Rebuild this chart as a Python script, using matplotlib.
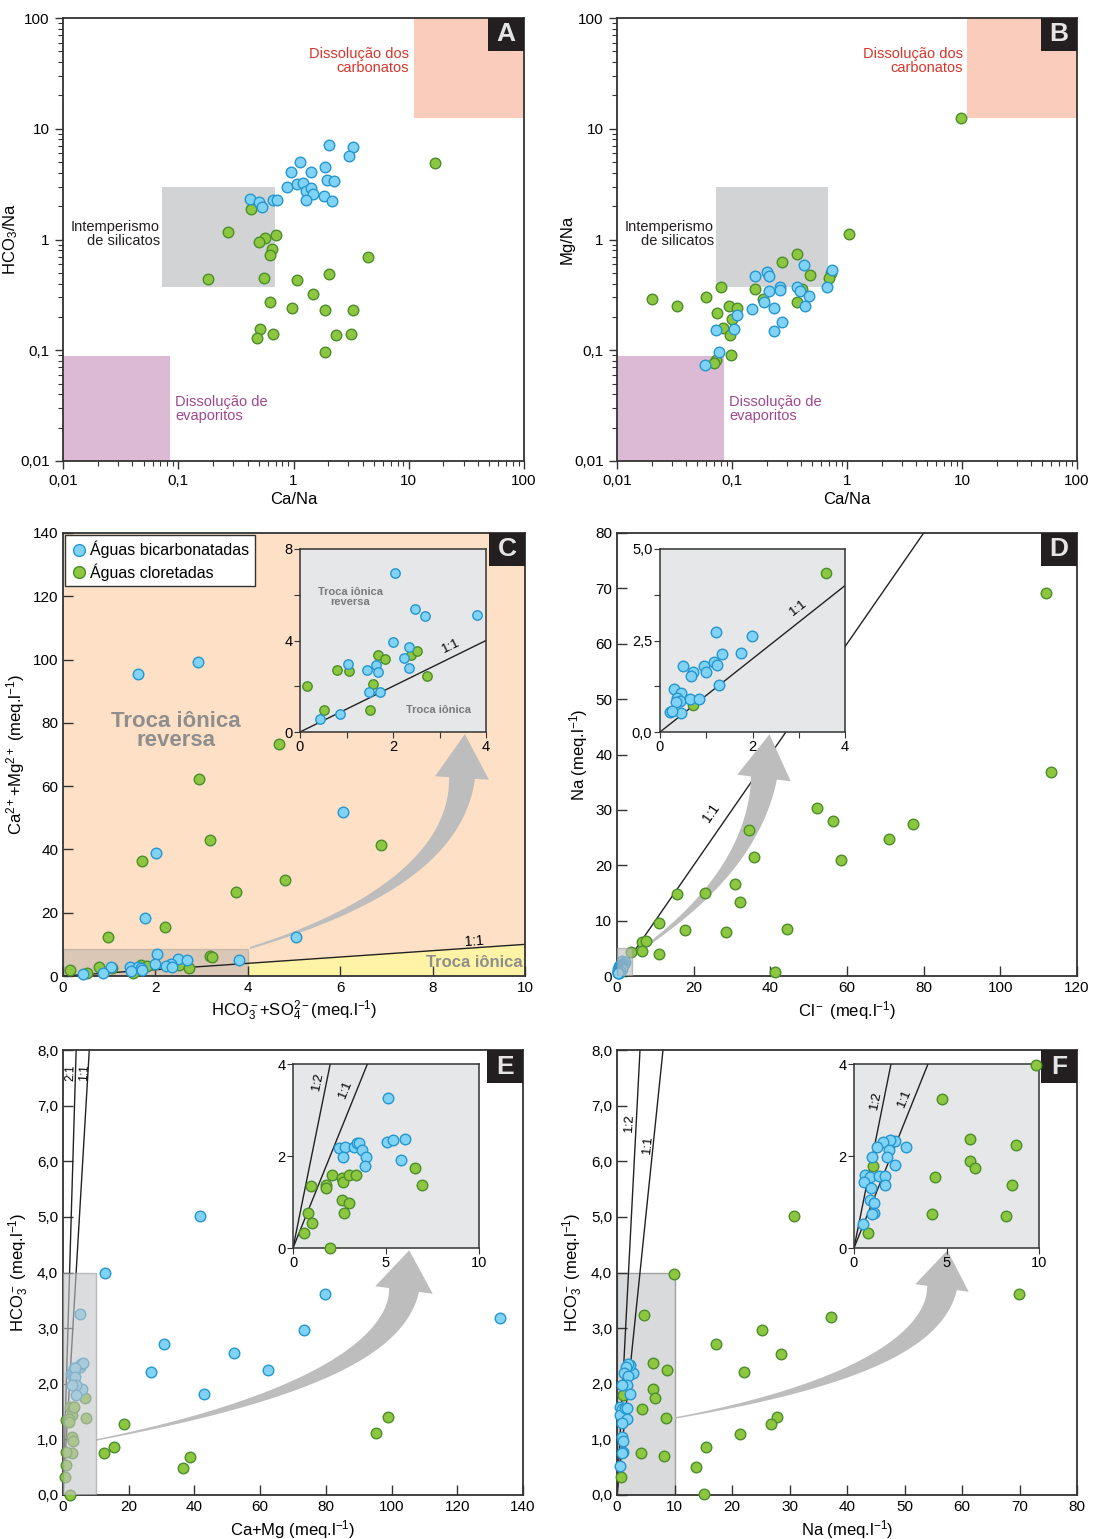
import numpy as np
import matplotlib.pyplot as plt
from matplotlib.patches import Rectangle, Polygon
from matplotlib.ticker import FixedLocator, FuncFormatter, LogLocator, NullFormatter
from matplotlib.lines import Line2D

plt.rcParams['font.family'] = ['Liberation Sans', 'DejaVu Sans']
plt.rcParams['mathtext.fontset'] = 'custom'
plt.rcParams['mathtext.rm'] = 'Liberation Sans'
plt.rcParams['mathtext.it'] = 'Liberation Sans:italic'

W, H = 1094, 1539

# ---- A: Ca/Na x HCO3/Na
a_bic_ca = [2.05, 3.27, 3.05, 1.15, 0.95, 1.42, 1.87, 1.94, 2.26, 0.88, 1.07, 1.20,
            1.28, 1.41, 1.47, 1.28, 1.85, 2.14, 0.42, 0.50, 0.53, 0.67, 0.72]
a_bic_hco3 = [7.2, 6.9, 5.7, 5.0, 4.05, 4.1, 4.5, 3.47, 3.4, 3.0, 3.2, 3.26,
              2.76, 2.92, 2.58, 2.28, 2.49, 2.24, 2.33, 2.17, 1.98, 2.28, 2.26]
a_clo_ca = [16.9, 0.43, 0.27, 0.57, 0.50, 0.71, 0.65, 0.63, 4.4, 0.18, 0.55, 1.07,
            2.05, 1.48, 0.62, 0.98, 1.88, 3.28, 0.51, 0.48, 0.67, 2.34, 3.18, 1.88]
a_clo_hco3 = [4.87, 1.87, 1.16, 1.04, 0.95, 1.10, 0.82, 0.72, 0.70, 0.44, 0.45, 0.43,
              0.49, 0.32, 0.27, 0.24, 0.23, 0.23, 0.155, 0.13, 0.14, 0.137, 0.14, 0.097]

# ---- B: Ca/Na x Mg/Na
b_bic_ca = [0.74, 0.67, 0.42, 0.20, 0.21, 0.16, 0.26, 0.26, 0.21, 0.37, 0.39, 0.47,
            0.43, 0.19, 0.23, 0.15, 0.11, 0.105, 0.073, 0.27, 0.23, 0.077, 0.058]
b_bic_mg = [0.53, 0.37, 0.59, 0.51, 0.47, 0.47, 0.37, 0.35, 0.345, 0.37, 0.34, 0.31,
            0.25, 0.27, 0.24, 0.235, 0.21, 0.156, 0.152, 0.18, 0.15, 0.096, 0.073]
b_clo_ca = [9.9, 1.05, 0.37, 0.27, 0.48, 0.73, 0.70, 0.41, 0.16, 0.081, 0.185, 0.37,
            0.020, 0.033, 0.059, 0.094, 0.11, 0.074, 0.10, 0.084, 0.097, 0.099, 0.072, 0.070]
b_clo_mg = [12.5, 1.12, 0.74, 0.63, 0.48, 0.50, 0.45, 0.36, 0.36, 0.37, 0.29, 0.275,
            0.29, 0.25, 0.30, 0.25, 0.24, 0.216, 0.19, 0.158, 0.136, 0.09, 0.082, 0.076]

# campos de Gaillardet (Ca/Na min, max, razao min, max)
field_carb = [11, 100, 12.5, 100]
field_sil = [0.073, 0.69, 0.375, 3.0]
field_evap = [0.01, 0.085, 0.01, 0.088]

# ---- C: HCO3+SO4 x Ca+Mg (pontos do detalhe + pontos fora do detalhe)
c_bic_x = [2.04, 2.48, 2.69, 3.81, 1.99, 2.34, 2.23, 2.35, 1.03, 1.45, 1.63, 1.68, 1.48, 1.72, 0.87, 0.44]
c_bic_y = [6.94, 5.37, 5.06, 5.10, 3.92, 3.70, 3.22, 2.81, 2.98, 2.69, 2.95, 2.63, 1.73, 1.74, 0.80, 0.56]
c_clo_x = [0.16, 0.52, 0.79, 1.06, 1.68, 1.82, 2.39, 2.51, 1.58, 1.51, 2.73]
c_clo_y = [1.99, 0.98, 2.72, 2.68, 3.35, 3.20, 3.38, 3.52, 2.08, 0.95, 2.44]
c_bic_x2 = [1.63, 2.93, 6.05, 2.01, 1.78, 5.05]
c_bic_y2 = [95.4, 99.1, 51.7, 38.8, 18.4, 12.4]
c_clo_x2 = [4.68, 2.94, 3.19, 1.72, 4.81, 3.75, 2.21, 0.97, 6.88, 3.18, 3.22]
c_clo_y2 = [73.2, 62.3, 42.9, 36.3, 30.4, 26.4, 15.4, 12.4, 41.4, 6.3, 6.0]

# ---- D: Cl x Na
d_bic_cl = [1.21, 1.98, 1.76, 1.35, 1.17, 1.24, 0.96, 0.99, 0.49, 0.71, 0.67, 1.27,
            0.30, 0.45, 0.37, 0.43, 0.65, 0.85, 0.34, 0.45, 0.22, 0.25]
d_bic_na = [2.74, 2.61, 2.17, 2.14, 1.90, 1.84, 1.79, 1.63, 1.79, 1.63, 1.52, 1.29,
            1.18, 1.06, 0.92, 0.86, 0.91, 0.91, 0.81, 0.52, 0.56, 0.58]
d_clo_cl = [3.58, 0.72]
d_clo_na = [4.35, 0.73]
d_clo_cl2 = [52.1, 56.4, 58.5, 34.5, 35.7, 30.9, 32.1, 23.0, 15.6, 11.0, 17.7, 28.4,
             44.4, 6.5, 7.6, 6.5, 11.0, 41.2, 111.9, 113.3, 77.2, 71.0]
d_clo_na2 = [30.3, 28.0, 20.9, 26.3, 21.5, 16.7, 13.4, 15.0, 14.8, 9.5, 8.3, 8.0,
             8.5, 6.1, 6.4, 4.5, 4.0, 0.7, 69.2, 36.8, 27.4, 24.8]

# ---- E: Ca+Mg x HCO3
e_bic_camg = [5.12, 5.03, 5.39, 6.01, 5.83, 2.46, 2.78, 3.27, 3.45, 3.55, 3.73, 3.95, 3.86, 2.69]
e_bic_hco3 = [3.26, 2.31, 2.35, 2.38, 1.91, 2.18, 2.20, 2.19, 2.28, 2.29, 2.13, 1.97, 1.79, 1.97]
e_clo_camg = [6.57, 6.91, 2.08, 2.66, 2.69, 3.02, 3.41, 0.97, 1.80, 1.80, 2.66, 3.02,
              2.75, 0.83, 1.01, 0.59, 2.01]
e_clo_hco3 = [1.75, 1.38, 1.59, 1.53, 1.43, 1.58, 1.58, 1.35, 1.37, 1.31, 1.04, 0.97,
              0.76, 0.77, 0.54, 0.33, 0.00]
e_bic_camg2 = [41.6, 12.8, 30.7, 26.7, 51.9, 62.3, 42.9, 79.7, 73.3, 133.1]
e_bic_hco32 = [5.02, 3.99, 2.71, 2.21, 2.55, 2.25, 1.81, 3.62, 2.96, 3.19]
e_clo_camg2 = [99.0, 95.4, 18.7, 12.6, 15.6, 38.8, 36.5]
e_clo_hco32 = [1.40, 1.12, 1.28, 0.76, 0.87, 0.69, 0.49]

# ---- F: Na x HCO3
f_bic_na = [2.79, 2.21, 1.94, 1.58, 1.22, 1.87, 1.80, 0.95, 2.21, 0.59, 0.86, 0.54,
            1.37, 1.69, 1.67, 0.92, 0.86, 1.10, 1.08, 0.95, 0.50]
f_bic_hco3 = [2.19, 2.33, 2.35, 2.31, 2.20, 2.14, 1.97, 1.97, 1.81, 1.58, 1.55, 1.44,
              1.56, 1.56, 1.36, 1.30, 1.04, 0.97, 0.77, 0.75, 0.53]
f_clo_na = [9.86, 4.73, 6.26, 8.74, 6.29, 6.55, 4.37, 8.54, 4.21, 8.24, 1.04, 0.77]
f_clo_hco3 = [3.97, 3.23, 2.37, 2.25, 1.90, 1.74, 1.54, 1.38, 0.75, 0.70, 1.79, 0.32]
f_clo_na2 = [30.7, 37.3, 25.3, 17.2, 28.6, 22.0, 27.9, 26.8, 21.4, 15.4, 13.7, 15.2, 69.9]
f_clo_hco32 = [5.02, 3.20, 2.97, 2.71, 2.54, 2.21, 1.40, 1.28, 1.10, 0.87, 0.50, 0.02, 3.61]

BIC = dict(facecolor='#80d3f4', edgecolor='#2596d1')
CLO = dict(facecolor='#8dc63f', edgecolor='#4b8e2c')
SPINE = '#333333'
ARROW = '#bdbdbd'

fig = plt.figure(figsize=(W / 100, H / 100), dpi=100)


def px_axes(x0, y0, x1, y1, z=0):
    """axes placed by pixel box (y from top)"""
    ax = fig.add_axes([x0 / W, 1 - y1 / H, (x1 - x0) / W, (y1 - y0) / H])
    ax.set_zorder(z)
    for s in ax.spines.values():
        s.set_color(SPINE)
        s.set_linewidth(1.3)
    return ax


def dots(ax, x, y, style, s=58, z=3, lw=1.0):
    ax.scatter(x, y, s=s, linewidths=lw, zorder=z, clip_on=False, **style)


def comma(fmt):
    return FuncFormatter(lambda v, p: (fmt % v).replace('.', ','))


def tag(ax, letter):
    """black corner box with panel letter"""
    bb = ax.get_position()
    w = 36 / (bb.width * W)
    h = 33 / (bb.height * H)
    ax.add_patch(Rectangle((1 - w, 1 - h), w, h, transform=ax.transAxes, facecolor='#231f20',
                           edgecolor='none', zorder=8, clip_on=False))
    ax.text(1 - w / 2, 1 - h / 2, letter, transform=ax.transAxes, ha='center', va='center',
            color='#e4e4e4', fontsize=19, fontweight='bold', zorder=9)


def ftext(x, y, s, **kw):
    fig.text(x / W, 1 - y / H, s, **kw)


def curved_arrow(ax, p0, p1, p2, w0, w1, head_w, head_l):
    """tapered curved arrow, pixel coordinates (quadratic bezier)"""
    t = np.linspace(0, 1, 80)[:, None]
    P0, P1, P2 = np.array(p0, float), np.array(p1, float), np.array(p2, float)
    pts = (1 - t) ** 2 * P0 + 2 * (1 - t) * t * P1 + t ** 2 * P2
    d = 2 * (1 - t) * (P1 - P0) + 2 * t * (P2 - P1)
    d = d / np.linalg.norm(d, axis=1, keepdims=True)
    n = np.c_[-d[:, 1], d[:, 0]]
    w = (w0 + (w1 - w0) * t ** 1.4) / 2
    left = pts + n * w
    right = pts - n * w
    u, nn = d[-1], n[-1]
    head = np.array([P2 + nn * head_w / 2, P2 + u * head_l, P2 - nn * head_w / 2])
    poly = np.vstack([left, head, right[::-1]])
    poly = np.c_[poly[:, 0] / W, 1 - poly[:, 1] / H]
    ax.add_patch(Polygon(poly, closed=True, transform=fig.transFigure, facecolor=ARROW,
                         edgecolor='none', clip_on=False, zorder=2.5))


def ratio_panel(ax, x_bic, y_bic, x_clo, y_clo, ylabel):
    ax.set_xscale('log')
    ax.set_yscale('log')
    ax.set_xlim(0.01, 100)
    ax.set_ylim(0.01, 100)
    for axis in (ax.xaxis, ax.yaxis):
        axis.set_major_locator(FixedLocator([0.01, 0.1, 1, 10, 100]))
        axis.set_minor_locator(LogLocator(base=10, subs=np.arange(2, 10)))
        axis.set_major_formatter(comma('%g'))
        axis.set_minor_formatter(NullFormatter())
    ax.tick_params(which='major', direction='out', length=6, width=1, labelsize=11, color=SPINE)
    ax.tick_params(which='minor', direction='out', length=3.5, width=0.8, color=SPINE)
    c0, c1, r0, r1 = field_carb
    ax.add_patch(Rectangle((c0, r0), c1 - c0, r1 - r0, facecolor='#f9ccbb', edgecolor='none', zorder=1))
    c0, c1, r0, r1 = field_sil
    ax.add_patch(Rectangle((c0, r0), c1 - c0, r1 - r0, facecolor='#d1d3d4', edgecolor='none', zorder=1))
    c0, c1, r0, r1 = field_evap
    ax.add_patch(Rectangle((c0, r0), c1 - c0, r1 - r0, facecolor='#dcbad6', edgecolor='none', zorder=1))
    dots(ax, x_clo, y_clo, CLO)
    dots(ax, x_bic, y_bic, BIC)
    ax.set_xlabel('Ca/Na', fontsize=12, labelpad=3)
    ax.set_ylabel(ylabel, fontsize=12, labelpad=0)


def inset_style(ax, xt, yt, xfmt='%g', yfmt='%g', xminor=None, yminor=None):
    ax.set_facecolor('#e6e7e8')
    ax.set_xticks(xt)
    ax.set_yticks(yt)
    ax.xaxis.set_major_formatter(comma(xfmt))
    ax.yaxis.set_major_formatter(comma(yfmt))
    if xminor:
        ax.set_xticks(xminor, minor=True)
    if yminor:
        ax.set_yticks(yminor, minor=True)
    ax.tick_params(which='both', direction='out', length=4, width=0.8, labelsize=10.5,
                   pad=1.5, color=SPINE)
    for s in ax.spines.values():
        s.set_linewidth(1.1)


def main_style(ax, xt, yt, yfmt='%g'):
    ax.set_xticks(xt)
    ax.set_yticks(yt)
    ax.yaxis.set_major_formatter(comma(yfmt))
    ax.tick_params(direction='in', length=7, width=1, labelsize=11, color=SPINE)


# ================= A =================
axA = px_axes(63, 18, 524, 461)
ratio_panel(axA, a_bic_ca, a_bic_hco3, a_clo_ca, a_clo_hco3, r'HCO$_3$/Na')
tag(axA, 'A')
ftext(409, 61, 'Dissolução dos\ncarbonatos', ha='right', va='center', color='#d9352b', fontsize=10.5, linespacing=0.95)
ftext(160, 234, 'Intemperismo\nde silicatos', ha='right', va='center', color='#231f20', fontsize=10.5, linespacing=0.95)
ftext(175, 409, 'Dissolução de\nevaporitos', ha='left', va='center', color='#a0468f', fontsize=10.5, linespacing=0.95)

# ================= B =================
axB = px_axes(617, 18, 1077, 461)
ratio_panel(axB, b_bic_ca, b_bic_mg, b_clo_ca, b_clo_mg, 'Mg/Na')
tag(axB, 'B')
ftext(963, 61, 'Dissolução dos\ncarbonatos', ha='right', va='center', color='#d9352b', fontsize=10.5, linespacing=0.95)
ftext(714, 234, 'Intemperismo\nde silicatos', ha='right', va='center', color='#231f20', fontsize=10.5, linespacing=0.95)
ftext(729, 409, 'Dissolução de\nevaporitos', ha='left', va='center', color='#a0468f', fontsize=10.5, linespacing=0.95)

# ================= C =================
axC = px_axes(63, 533, 525, 976)
axC.set_xlim(0, 10)
axC.set_ylim(0, 140)
axC.set_facecolor('#fde0c6')
main_style(axC, np.arange(0, 11, 2), np.arange(0, 141, 20))
axC.add_patch(Polygon([(4, 0), (10, 0), (10, 10), (4, 4)], facecolor='#fff4a6', edgecolor='none', zorder=1))
axC.add_patch(Rectangle((0, 0), 4, 8.5, facecolor='#9a9a9a', alpha=0.35, edgecolor='#8a8a8a', lw=1, zorder=1.5))
axC.plot([0, 10], [0, 10], color='#222222', lw=1, zorder=2)
dots(axC, c_clo_x + c_clo_x2, c_clo_y + c_clo_y2, CLO)
dots(axC, c_bic_x + c_bic_x2, c_bic_y + c_bic_y2, BIC)
axC.text(2.45, 77.5, 'Troca iônica\nreversa', ha='center', va='center', color='#8e8e8e',
         fontsize=16, fontweight='bold', linespacing=0.9)
axC.text(8.9, 4.3, 'Troca iônica', ha='center', va='center', color='#8e8e8e', fontsize=12, fontweight='bold')
axC.text(8.9, 10.8, '1:1', ha='center', va='center', fontsize=10, rotation=4)
axC.set_xlabel(r'HCO$_3^-$+SO$_4^{2-}$(meq.l$^{-1}$)', fontsize=12, labelpad=3)
axC.set_ylabel(r'Ca$^{2+}$+Mg$^{2+}$ (meq.l$^{-1}$)', fontsize=12, labelpad=4)
handles = [Line2D([], [], marker='o', ls='none', markersize=8.5, markerfacecolor=BIC['facecolor'],
                  markeredgecolor=BIC['edgecolor']),
           Line2D([], [], marker='o', ls='none', markersize=8.5, markerfacecolor=CLO['facecolor'],
                  markeredgecolor=CLO['edgecolor'])]
leg = axC.legend(handles, ['Águas bicarbonatadas', 'Águas cloretadas'], loc='upper left',
                 bbox_to_anchor=(0, 1), borderaxespad=0.15, frameon=True, fancybox=False,
                 fontsize=11.5, handletextpad=0.2, borderpad=0.35, labelspacing=0.3,
                 handlelength=1.0, framealpha=1)
leg.get_frame().set_edgecolor(SPINE)
leg.set_zorder(7)
tag(axC, 'C')
curved_arrow(axC, (250, 948), (455, 885), (462, 778), 2, 26, 54, 44)

axCi = px_axes(300, 549, 486, 732, z=3)
axCi.set_xlim(0, 4)
axCi.set_ylim(0, 8)
inset_style(axCi, [0, 2, 4], [0, 4, 8], xminor=[1, 3], yminor=[2, 6])
axCi.plot([0, 4], [0, 4], color='#222222', lw=1, zorder=2)
dots(axCi, c_clo_x, c_clo_y, CLO, s=46)
dots(axCi, c_bic_x, c_bic_y, BIC, s=46)
axCi.text(1.08, 5.9, 'Troca iônica\nreversa', ha='center', va='center', color='#7a7a7a',
          fontsize=8, fontweight='bold', linespacing=0.9)
axCi.text(2.97, 0.95, 'Troca iônica', ha='center', va='center', color='#7a7a7a', fontsize=8, fontweight='bold')
axCi.text(3.25, 3.75, '1:1', ha='center', va='center', fontsize=9.5, rotation=26)

# ================= D =================
axD = px_axes(617, 533, 1077, 976)
axD.set_xlim(0, 120)
axD.set_ylim(0, 80)
main_style(axD, np.arange(0, 121, 20), np.arange(0, 81, 10))
axD.plot([0, 80], [0, 80], color='#222222', lw=1, zorder=2)
dots(axD, d_clo_cl + d_clo_cl2, d_clo_na + d_clo_na2, CLO)
dots(axD, d_bic_cl, d_bic_na, BIC)
axD.add_patch(Rectangle((0, 0), 4, 5, facecolor='#bdbdbd', alpha=0.6, edgecolor='#999999', lw=1, zorder=4))
axD.text(24.5, 29.5, '1:1', ha='center', va='center', fontsize=10, rotation=55)
axD.set_xlabel(r'Cl$^-$ (meq.l$^{-1}$)', fontsize=12, labelpad=3)
axD.set_ylabel(r'Na (meq.l$^{-1}$)', fontsize=12, labelpad=4)
tag(axD, 'D')
curved_arrow(axD, (633, 955), (752, 875), (764, 778), 2, 26, 54, 44)

axDi = px_axes(660, 549, 845, 732, z=3)
axDi.set_xlim(0, 4)
axDi.set_ylim(0, 5)
inset_style(axDi, [0, 2, 4], [0, 2.5, 5], yfmt='%.1f', xminor=[1, 3], yminor=[1.25, 3.75])
axDi.plot([0, 4], [0, 4], color='#222222', lw=1, zorder=2)
dots(axDi, d_clo_cl, d_clo_na, CLO, s=55)
dots(axDi, d_bic_cl, d_bic_na, BIC, s=58)
axDi.text(3.0, 3.4, '1:1', ha='center', va='center', fontsize=9.5, rotation=38)

# ================= E =================
axE = px_axes(63, 1050, 523, 1495)
axE.set_xlim(0, 140)
axE.set_ylim(0, 8)
main_style(axE, np.arange(0, 141, 20), np.arange(0, 9, 1), yfmt='%.1f')
axE.plot([0, 8], [0, 8], color='#222222', lw=1, zorder=2)
axE.plot([0, 4], [0, 8], color='#222222', lw=1, zorder=2)
dots(axE, e_clo_camg + e_clo_camg2, e_clo_hco3 + e_clo_hco32, CLO)
dots(axE, e_bic_camg + e_bic_camg2, e_bic_hco3 + e_bic_hco32, BIC)
axE.add_patch(Rectangle((0, 0), 10, 4, facecolor='#c4c5c7', alpha=0.6, edgecolor='#999999', lw=1, zorder=4))
axE.text(2.2, 7.6, '2:1', ha='center', va='center', fontsize=8.5, rotation=88)
axE.text(6.6, 7.6, '1:1', ha='center', va='center', fontsize=8.5, rotation=87)
axE.set_xlabel(r'Ca+Mg (meq.l$^{-1}$)', fontsize=12, labelpad=3)
axE.set_ylabel(r'HCO$_3^-$ (meq.l$^{-1}$)', fontsize=12, labelpad=4)
tag(axE, 'E')
curved_arrow(axE, (96, 1440), (392, 1382), (404, 1290), 1.5, 30, 58, 40)

axEi = px_axes(293, 1064, 479, 1248, z=3)
axEi.set_xlim(0, 10)
axEi.set_ylim(0, 4)
inset_style(axEi, [0, 5, 10], [0, 2, 4])
axEi.plot([0, 4], [0, 4], color='#222222', lw=1, zorder=2)
axEi.plot([0, 2], [0, 4], color='#222222', lw=1, zorder=2)
dots(axEi, e_clo_camg, e_clo_hco3, CLO, s=58)
dots(axEi, e_bic_camg, e_bic_hco3, BIC, s=58)
axEi.text(1.35, 3.62, '1:2', ha='center', va='center', fontsize=9.5, rotation=78)
axEi.text(2.85, 3.45, '1:1', ha='center', va='center', fontsize=9.5, rotation=68)

# ================= F =================
axF = px_axes(617, 1050, 1077, 1495)
axF.set_xlim(0, 80)
axF.set_ylim(0, 8)
main_style(axF, np.arange(0, 81, 10), np.arange(0, 9, 1), yfmt='%.1f')
axF.add_patch(Rectangle((0, 0), 10, 4, facecolor='#d9dadb', edgecolor='#a0a0a0', lw=1, zorder=1))
axF.plot([0, 8], [0, 8], color='#222222', lw=1, zorder=2)
axF.plot([0, 4], [0, 8], color='#222222', lw=1, zorder=2)
dots(axF, f_clo_na + f_clo_na2, f_clo_hco3 + f_clo_hco32, CLO)
dots(axF, f_bic_na, f_bic_hco3, BIC)
axF.text(2.2, 6.7, '1:2', ha='center', va='center', fontsize=9.5, rotation=87)
axF.text(5.4, 6.3, '1:1', ha='center', va='center', fontsize=9.5, rotation=84)
axF.set_xlabel(r'Na (meq.l$^{-1}$)', fontsize=12, labelpad=3)
axF.set_ylabel(r'HCO$_3^-$ (meq.l$^{-1}$)', fontsize=12, labelpad=4)
tag(axF, 'F')
curved_arrow(axF, (675, 1418), (930, 1372), (942, 1288), 1.5, 30, 54, 38)

axFi = px_axes(854, 1064, 1039, 1248, z=3)
axFi.set_xlim(0, 10)
axFi.set_ylim(0, 4)
inset_style(axFi, [0, 5, 10], [0, 2, 4])
axFi.plot([0, 4], [0, 4], color='#222222', lw=1, zorder=2)
axFi.plot([0, 2], [0, 4], color='#222222', lw=1, zorder=2)
dots(axFi, f_clo_na, f_clo_hco3, CLO, s=58)
dots(axFi, f_bic_na, f_bic_hco3, BIC, s=58)
axFi.text(1.2, 3.2, '1:2', ha='center', va='center', fontsize=9.5, rotation=78)
axFi.text(2.75, 3.25, '1:1', ha='center', va='center', fontsize=9.5, rotation=68)

fig.savefig('out.png', dpi=100)
